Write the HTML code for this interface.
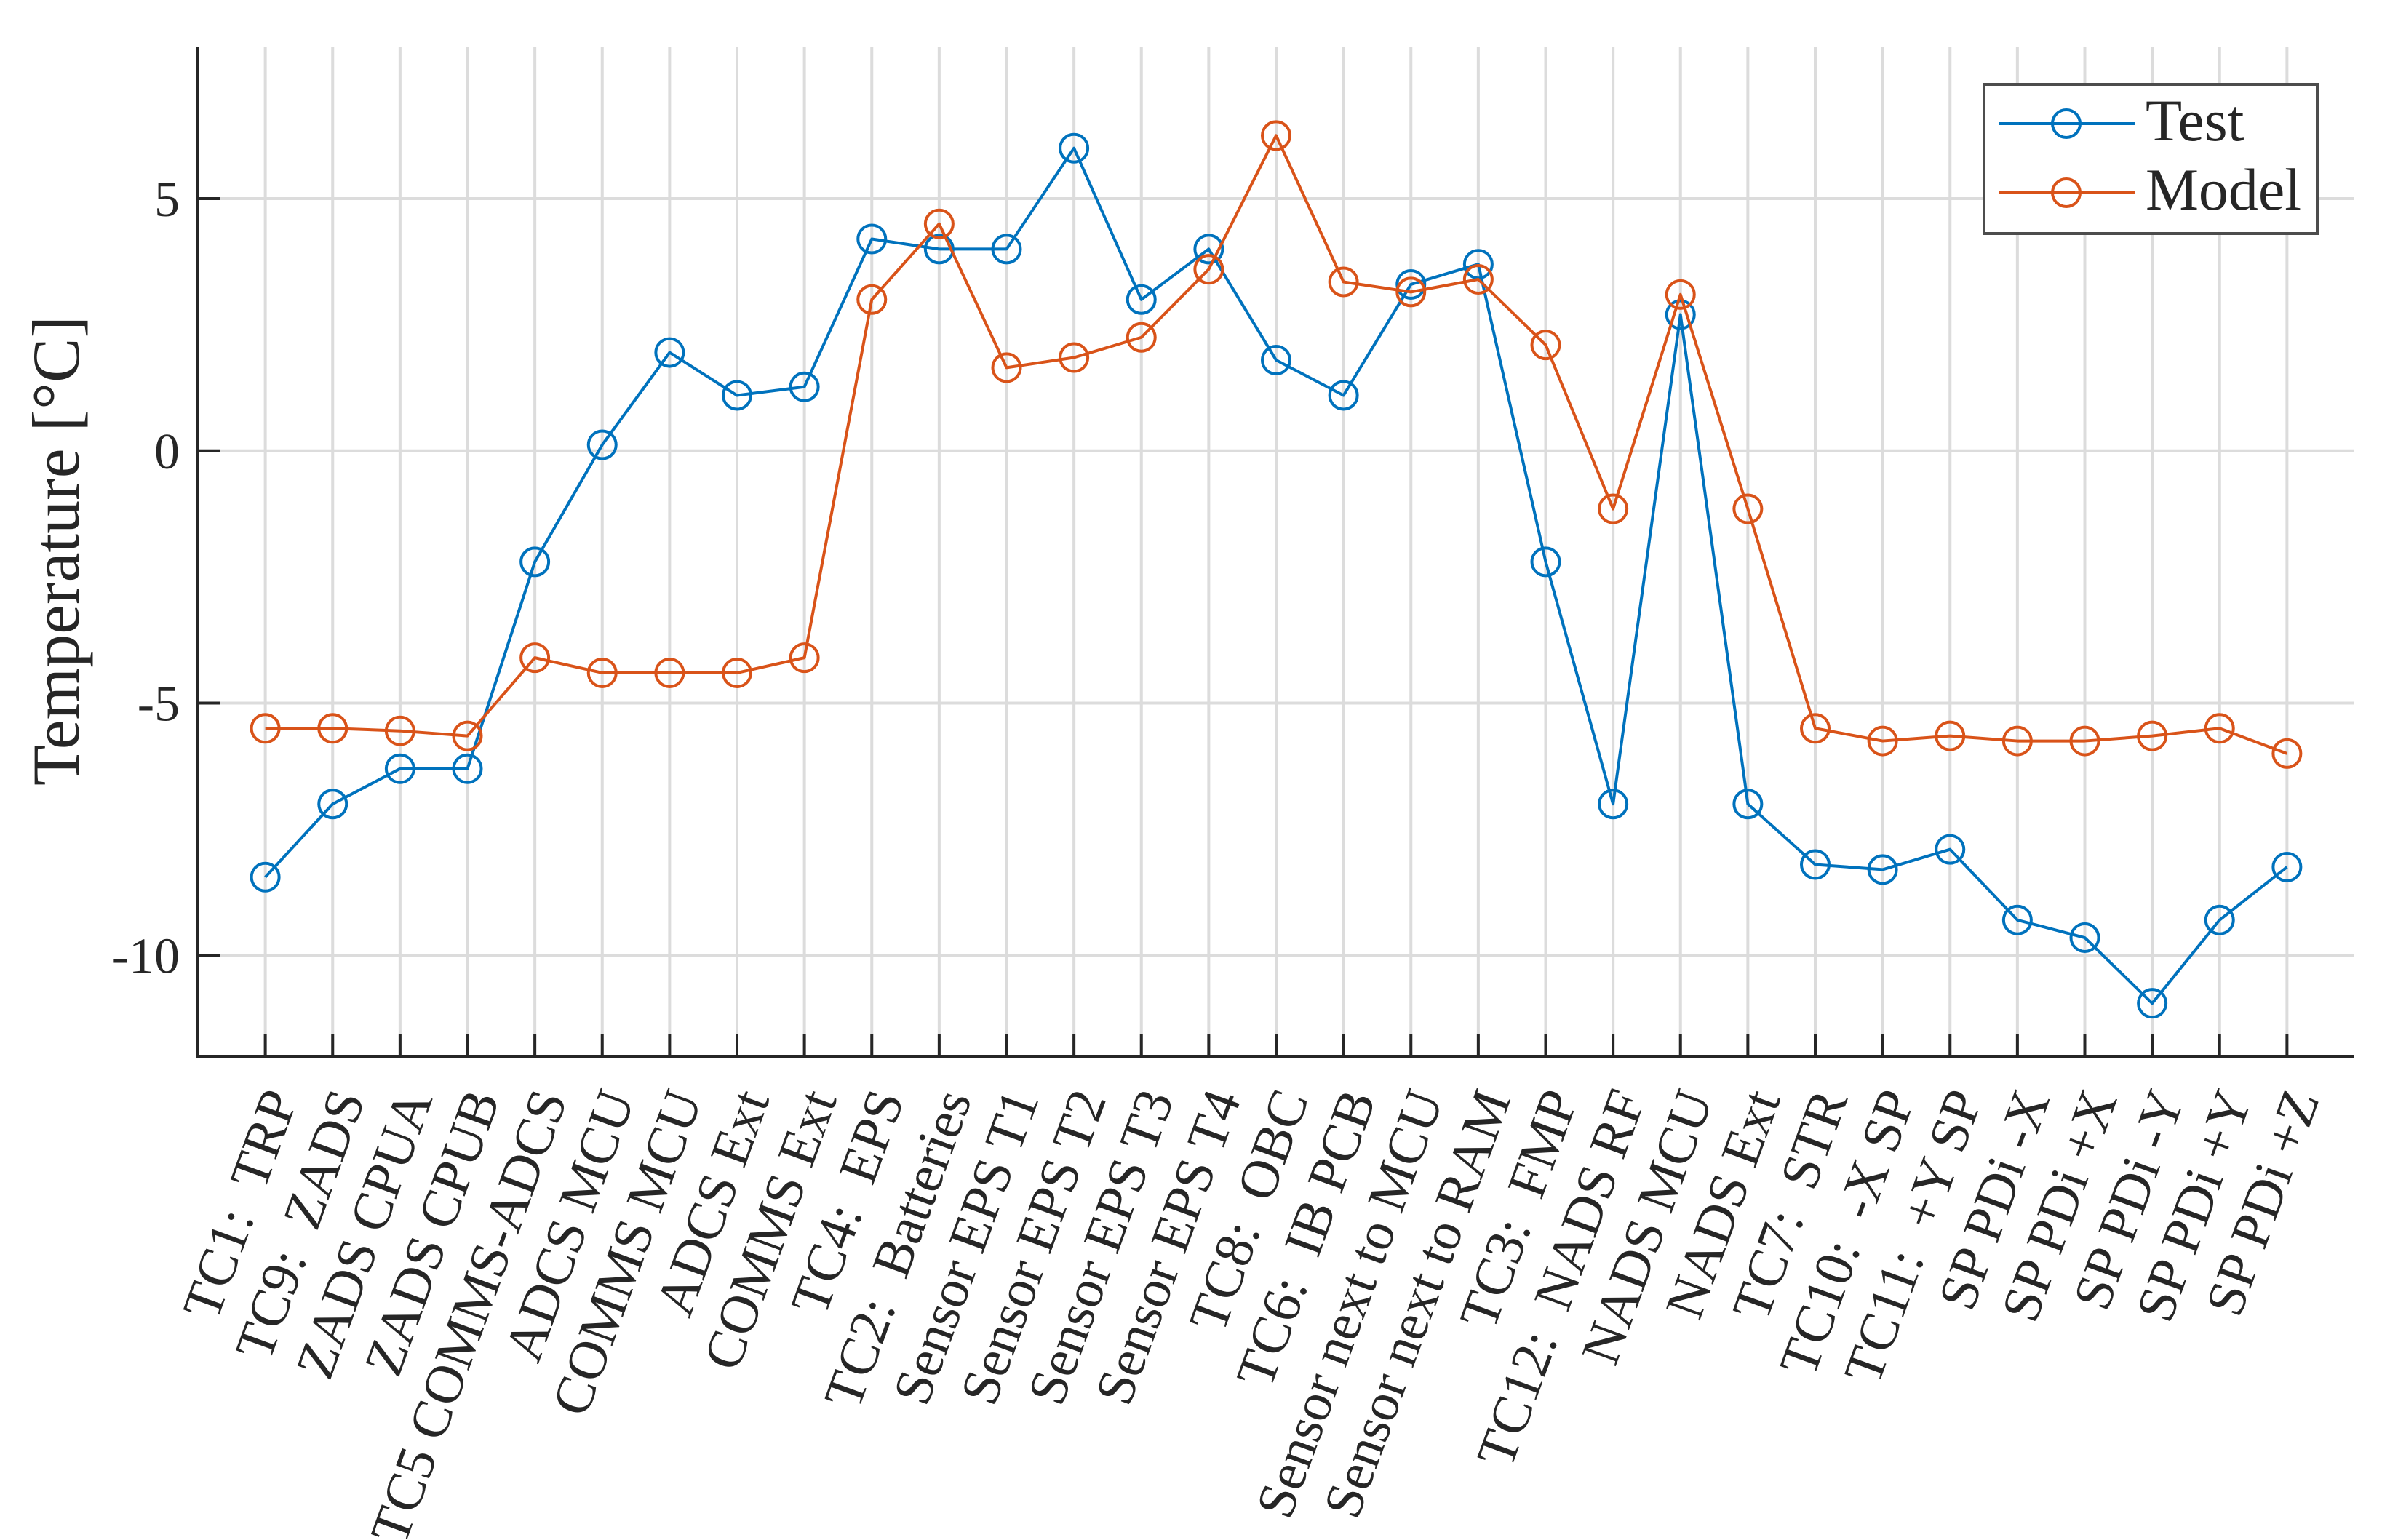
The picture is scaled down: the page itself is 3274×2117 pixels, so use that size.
<!DOCTYPE html>
<html><head><meta charset="utf-8"><style>
html,body{margin:0;padding:0;background:#fff;}
svg{display:block;}
text{font-family:"Liberation Serif",serif;fill:#262626;white-space:pre;}
</style></head><body>
<svg id="chart" xmlns="http://www.w3.org/2000/svg" width="3274" height="2117" viewBox="0 0 3274 2117">
<g id="grid"></g>
<g id="series"></g>
<g id="axes"></g>
<g id="legend"></g>
</svg>
<script>
const categories = ["TC1:  TRP","TC9:  ZADS","ZADS CPUA","ZADS CPUB","TC5 COMMS-ADCS","ADCS MCU","COMMS MCU","ADCS Ext","COMMS Ext","TC4:  EPS","TC2:  Batteries","Sensor EPS T1","Sensor EPS T2","Sensor EPS T3","Sensor EPS T4","TC8:  OBC","TC6:  IB PCB","Sensor next to MCU","Sensor next to RAM","TC3:  FMP","TC12:  NADS RF","NADS MCU","NADS Ext","TC7:  STR","TC10:  -X SP","TC11:  +Y SP","SP PDi -X","SP PDi +X","SP PDi -Y","SP PDi +Y","SP PDi +Z"];
const testValues = [-8.45,-7.0,-6.3,-6.3,-2.2,0.12,1.95,1.1,1.27,4.2,4.0,4.0,6.0,3.0,4.0,1.8,1.1,3.3,3.7,-2.2,-7.0,2.7,-7.0,-8.2,-8.3,-7.9,-9.3,-9.65,-10.95,-9.3,-8.25];
const modelValues = [-5.5,-5.5,-5.55,-5.65,-4.1,-4.4,-4.4,-4.4,-4.1,3.0,4.5,1.65,1.85,2.25,3.6,6.25,3.35,3.15,3.4,2.1,-1.15,3.1,-1.15,-5.5,-5.75,-5.65,-5.75,-5.75,-5.65,-5.5,-6.0];
const yTicks = [-10,-5,0,5];
const yTickLabels = ["-10","-5","0","5"];

const NS = "http://www.w3.org/2000/svg";
const L = 272, R = 3236, T = 65, B = 1452;
const xMin = 0, xMax = 32, yMin = -12, yMax = 8;
function xS(i){ return L + (i + 1 - xMin) / (xMax - xMin) * (R - L); }
function yS(v){ return B - (v - yMin) / (yMax - yMin) * (B - T); }
function mk(tag, attrs, parent){
  const e = document.createElementNS(NS, tag);
  for (const k in attrs) e.setAttribute(k, attrs[k]);
  parent.appendChild(e);
  return e;
}
const grid = document.getElementById('grid');
const axes = document.getElementById('axes');
const series = document.getElementById('series');
const legend = document.getElementById('legend');

categories.forEach((c, i) => {
  const x = xS(i);
  const g = mk('line', {x1:x, x2:x, y1:T, y2:B, stroke:'#dcdcdc', 'stroke-width':4}, grid);
  
  
  const t = mk('line', {x1:x, x2:x, y1:B, y2:B-31, stroke:'#262626', 'stroke-width':4}, axes);
  
  
  const lbl = mk('text', {x:x+45, y:1510, 'font-size':75, 'text-anchor':'end', transform:'rotate(-70 '+(x+45)+' 1510)'}, axes);
  lbl.textContent = c;
  
  
});
yTicks.forEach((v, i) => {
  const y = yS(v);
  const g = mk('line', {x1:L, x2:R, y1:y, y2:y, stroke:'#dcdcdc', 'stroke-width':4}, grid);
  
  
  const t = mk('line', {x1:L, x2:L+31, y1:y, y2:y, stroke:'#262626', 'stroke-width':4}, axes);
  
  
  const lbl = mk('text', {x:247, y:y+24, 'font-size':70, 'text-anchor':'end'}, axes);
  lbl.textContent = yTickLabels[i];
  
  
});
const ax = mk('path', {d:'M'+L+' '+T+' L'+L+' '+B+' L'+R+' '+B, fill:'none', stroke:'#262626', 'stroke-width':4}, axes);


const yt = mk('text', {x:0, y:0, 'font-size':92, 'text-anchor':'middle', transform:'translate(108 757) rotate(-90)'}, axes);
yt.textContent = 'Temperature [°C]';



function drawSeries(vals, color, name){
  const pts = vals.map((v, i) => xS(i) + ',' + yS(v)).join(' ');
  const pl = mk('polyline', {points:pts, fill:'none', stroke:color, 'stroke-width':4, 'stroke-linejoin':'round'}, series);
  
  
  vals.forEach((v, i) => {
    const c = mk('circle', {cx:xS(i), cy:yS(v), r:19, fill:'none', stroke:color, 'stroke-width':4}, series);
    
    
  });
}
drawSeries(testValues, '#0072BD', 'test');
drawSeries(modelValues, '#D95319', 'model');

const box = mk('rect', {x:2727, y:116, width:458, height:205, fill:'#fff', stroke:'#4d4d4d', 'stroke-width':4}, legend);


[['Test','#0072BD',170],['Model','#D95319',265]].forEach(e => {
  const ln = mk('line', {x1:2747, x2:2934, y1:e[2], y2:e[2], stroke:e[1], 'stroke-width':4}, legend);
  
  
  const c = mk('circle', {cx:2840, cy:e[2], r:19, fill:'none', stroke:e[1], 'stroke-width':4}, legend);
  
  
  const t = mk('text', {x:2949, y:e[2]+23, 'font-size':82}, legend);
  t.textContent = e[0];
  
  
});
</script>
</body></html>
